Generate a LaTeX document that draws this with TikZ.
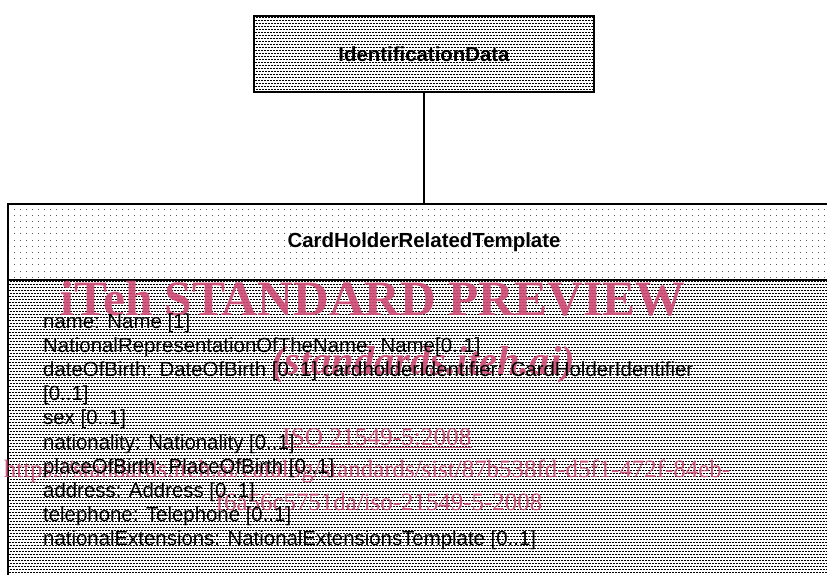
\documentclass[tikz,border=0pt]{standalone}
\usepackage{fontspec}
\setmainfont{Liberation Sans}
\newfontfamily\wmfont{Liberation Serif}
\definecolor{wmpink}{HTML}{CF4A74}
\newcommand{\umlsize}{\fontsize{20.4}{24.2}\selectfont}
\tikzset{
    hatchrow/.style={black,line width=.8pt,dash pattern=on 2pt off 1pt},
    dotrow/.style={black!65,line width=.8pt,dash pattern=on 1pt off 5pt},
    densefill/.style={path picture={
        \foreach \hy [evaluate=\hy as \ph using 0.5*\hy] in {1.5,4.5,...,345}
            \draw[hatchrow,dash phase=\ph pt]([yshift=-\hy pt]path picture bounding box.north west)--([yshift=-\hy pt]path picture bounding box.north east);
    }},
    dotfill/.style={path picture={
        \foreach \hy in {5,11.2,...,75}
            \draw[dotrow]([yshift=-\hy pt]path picture bounding box.north west)--([yshift=-\hy pt]path picture bounding box.north east);
    }},
    classbox/.style={draw,line width=1.8pt,inner sep=0,font=\umlsize\bfseries},
    attrtext/.style={anchor=base west,inner sep=0,font=\umlsize},
    wmtext/.style={anchor=base,inner sep=0,text=wmpink,opacity=.9},
}
\begin{document}
\begin{tikzpicture}[x=1pt,y=-1pt]
    \useasboundingbox(0,0)rectangle(827,574);
    \clip(0,0)rectangle(827,574);
    \node[classbox,densefill,minimum width=340pt,minimum height=76pt](idData)at(424,54){IdentificationData};
    \node[classbox,dotfill,minimum width=832pt,minimum height=76pt](chrtHead)at(424,242){CardHolderRelatedTemplate};
    \node[classbox,densefill,minimum width=832pt,minimum height=340pt](chrtAttr)at(424,450){};
    \draw[line width=1.8pt](idData.south)--(chrtHead.north);
    \node[wmtext,font=\wmfont\bfseries\fontsize{49.5}{49.5}\selectfont](wmTitle)at(373,315){iTeh STANDARD PREVIEW};
    \node[wmtext,font=\wmfont\bfseries\itshape\fontsize{40.5}{40.5}\selectfont](wmSite)at(423,374){(standards.iteh.ai)};
    \node[wmtext,font=\wmfont\fontsize{25.3}{25.3}\selectfont](wmIso)at(377,445){\underline{ISO 21549-5:2008}};
    \node[wmtext,font=\wmfont\fontsize{24.9}{24.9}\selectfont](wmUrl)at(367,477){https://standards.iteh.ai/catalog/standards/sist/87b538fd-d5f1-472f-84eb-};
    \node[wmtext,font=\wmfont\fontsize{24.9}{24.9}\selectfont](wmUrlEnd)at(379,510){f6a56c5751da/iso-21549-5-2008};
    \foreach \txt [count=\k] in {{name: Name [1]},{NationalRepresentationOfTheName: Name[0..1]},{dateOfBirth: DateOfBirth [0..1] cardholderIdentifier: CardHolderIdentifier},{[0..1]},{sex [0..1]},{nationality: Nationality [0..1]},{placeOfBirth: PlaceOfBirth [0..1]},{address: Address [0..1]},{telephone: Telephone [0..1]},{nationalExtensions: NationalExtensionsTemplate [0..1]}}
        \node[attrtext](attr\k)at(43,{328+24.2*(\k-1)}){\txt};
\end{tikzpicture}
\end{document}
